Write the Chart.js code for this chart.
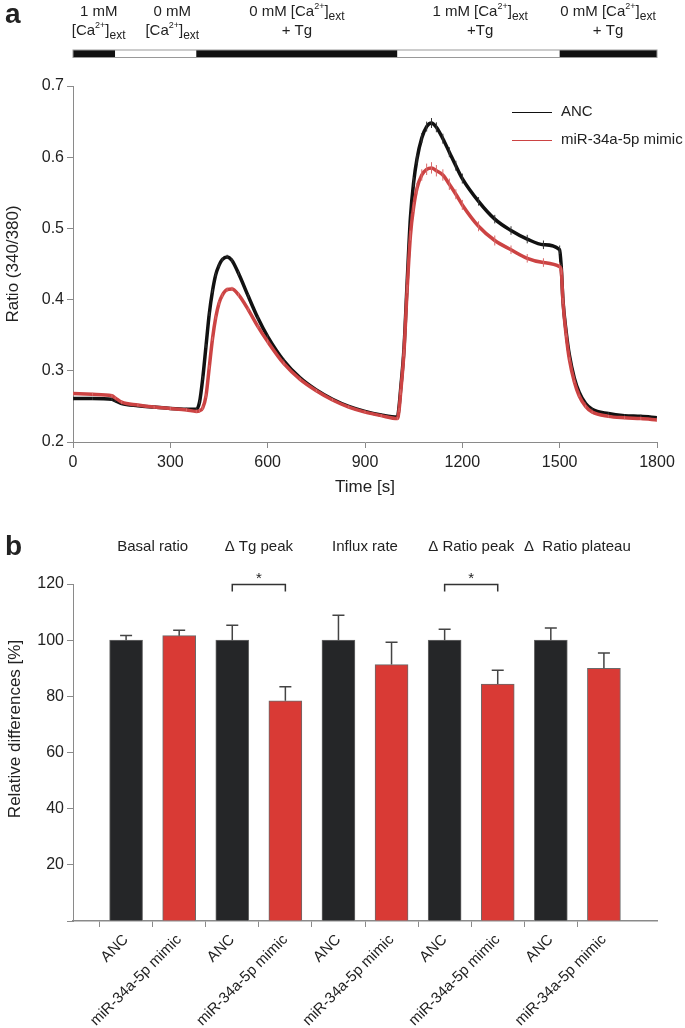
<!DOCTYPE html>
<html>
<head>
<meta charset="utf-8">
<script src="https://cdn.jsdelivr.net/npm/chart.js@4.4.1/dist/chart.umd.min.js"></script>
<style>
    html, body { margin: 0; padding: 0; background: #fff; }
    #wrap { position: relative; width: 685px; height: 1028px; }
    canvas { position: absolute; left: 0; }
    #ca { top: 0; }
    #cb { top: 500px; }
</style>
</head>
<body>
<div id="wrap">
    <canvas id="ca" width="685" height="500"></canvas>
    <canvas id="cb" width="685" height="528"></canvas>
</div>
<script>
// ---- panel a: Fura-2 ratio traces ----
const time = [0, 60, 120, 130, 150, 200, 250, 300, 350, 380, 390, 400, 410, 420, 430, 440, 450, 460, 475, 490,
    510, 540, 570, 600, 650, 700, 750, 800, 850, 900, 950, 1000, 1005, 1010, 1020, 1030, 1040, 1050, 1060, 1075,
    1090, 1105, 1120, 1140, 1160, 1180, 1200, 1250, 1300, 1350, 1400, 1450, 1500, 1505, 1510, 1520, 1530, 1545,
    1560, 1580, 1600, 1650, 1700, 1750, 1800]

const ancRatio = [0.261, 0.261, 0.260, 0.258, 0.254, 0.251, 0.249, 0.247, 0.246, 0.246,
    0.256, 0.290, 0.335, 0.380, 0.412, 0.435, 0.448, 0.456, 0.460, 0.455,
    0.437, 0.405, 0.374, 0.348, 0.314, 0.290, 0.273, 0.260, 0.250, 0.243,
    0.238, 0.235, 0.250, 0.275, 0.330, 0.425, 0.515, 0.565, 0.597, 0.627,
    0.643, 0.648, 0.642, 0.626, 0.607, 0.588, 0.570, 0.538, 0.513, 0.497,
    0.485, 0.477, 0.470, 0.445, 0.400, 0.355, 0.322, 0.290, 0.270, 0.254,
    0.246, 0.240, 0.237, 0.236, 0.234]

const mimicRatio = [0.268, 0.267, 0.265, 0.262, 0.256, 0.252, 0.249, 0.247, 0.245, 0.243,
    0.244, 0.248, 0.265, 0.305, 0.345, 0.375, 0.395, 0.406, 0.414, 0.415,
    0.407, 0.386, 0.362, 0.341, 0.310, 0.288, 0.272, 0.259, 0.249, 0.242,
    0.237, 0.233, 0.245, 0.270, 0.325, 0.415, 0.490, 0.530, 0.556, 0.575,
    0.583, 0.585, 0.581, 0.575, 0.562, 0.548, 0.533, 0.503, 0.483, 0.470,
    0.458, 0.452, 0.446, 0.440, 0.398, 0.350, 0.316, 0.285, 0.265, 0.250,
    0.242, 0.236, 0.234, 0.233, 0.231]

const ancSem = [0.002, 0.002, 0.002, 0.002, 0.002, 0.002, 0.002, 0.002, 0.002, 0.002,
    0.003, 0.003, 0.003, 0.003, 0.003, 0.003, 0.003, 0.003, 0.003, 0.003,
    0.003, 0.003, 0.003, 0.003, 0.003, 0.002, 0.002, 0.002, 0.002, 0.002,
    0.002, 0.002, 0.003, 0.004, 0.005, 0.006, 0.006, 0.007, 0.007, 0.007,
    0.007, 0.007, 0.007, 0.007, 0.007, 0.007, 0.007, 0.006, 0.006, 0.006,
    0.006, 0.006, 0.006, 0.005, 0.004, 0.003, 0.003, 0.002, 0.002, 0.002,
    0.002, 0.002, 0.002, 0.002, 0.002]

const mimicSem = [0.002, 0.002, 0.002, 0.002, 0.002, 0.002, 0.002, 0.002, 0.002, 0.002,
    0.003, 0.003, 0.003, 0.003, 0.003, 0.003, 0.003, 0.003, 0.003, 0.003,
    0.003, 0.003, 0.003, 0.003, 0.003, 0.002, 0.002, 0.002, 0.002, 0.002,
    0.002, 0.002, 0.003, 0.004, 0.005, 0.006, 0.007, 0.007, 0.008, 0.008,
    0.008, 0.008, 0.008, 0.008, 0.008, 0.007, 0.007, 0.007, 0.007, 0.006,
    0.006, 0.006, 0.006, 0.005, 0.004, 0.003, 0.003, 0.002, 0.002, 0.002,
    0.002, 0.002, 0.002, 0.002, 0.002]

// perfusion protocol bar
const phaseEdges = [0, 130, 380, 1000, 1500, 1800]
const phaseFilled = [true, false, true, false, true]
const phaseLabelAt = [79, 306, 690, 1255, 1649]
const phaseLine1 = ['1 mM', '0 mM', '0 mM [Ca^{2+}]_{ext}', '1 mM [Ca^{2+}]_{ext}', '0 mM [Ca^{2+}]_{ext}']
const phaseLine2 = ['[Ca^{2+}]_{ext}', '[Ca^{2+}]_{ext}', '+ Tg', '+Tg', '+ Tg']

// ---- panel b: relative differences ----
const groups = ['Basal ratio', '\u0394 Tg peak', 'Influx rate', '\u0394 Ratio peak', '\u0394  Ratio plateau']
const ancRel = [100, 100, 100, 100, 100]
const ancRelErr = [1.7, 5.3, 8.9, 3.9, 4.3]
const mimicRel = [101.6, 78.4, 91.3, 84.4, 90.0]
const mimicRelErr = [1.9, 5.0, 8.0, 4.9, 5.4]
const sigPairs = [[3, 4], [7, 8]]

const FONT = '"Liberation Sans", Arial, sans-serif'
const RED = '#cc4343'
const BAR_RED = '#d93a35'
const BAR_DARK = '#252628'
const AXIS = '#8a8a8a'

Chart.defaults.font.family = FONT
Chart.defaults.color = '#222'

function pts(xs, ys) {
    return xs.map((x, i) => ({ x: x, y: ys[i] }))
}

function errRadius(sem) {
    return function(ctx) {
        const y = ctx.chart.scales.y
        if (!y) return 0
        return Math.abs(y.getPixelForValue(0.3) - y.getPixelForValue(0.3 + sem[ctx.dataIndex]))
    }
}

// "[Ca^{2+}]_{ext}" -> pieces with super/subscript
function richParts(s) {
    const out = []
    const re = /\^\{([^}]*)\}|_\{([^}]*)\}|([^^_]+)/g
    let m
    while ((m = re.exec(s))) {
        if (m[1] != null) out.push([m[1], 'sup'])
        else if (m[2] != null) out.push([m[2], 'sub'])
        else out.push([m[3], ''])
    }
    return out
}

function richText(ctx, s, cx, cy, size) {
    const parts = richParts(s)
    const fontOf = k => (k === 'sup' ? Math.round(size * 0.6) : k === 'sub' ? Math.round(size * 0.8) : size) + 'px ' + FONT
    let w = 0
    for (const p of parts) {
        ctx.font = fontOf(p[1])
        w += ctx.measureText(p[0]).width
    }
    let x = cx - w / 2
    ctx.textBaseline = 'middle'
    ctx.textAlign = 'left'
    for (const p of parts) {
        ctx.font = fontOf(p[1])
        const dy = p[1] === 'sup' ? -size * 0.38 : p[1] === 'sub' ? size * 0.3 : 0
        ctx.fillText(p[0], x, cy + dy)
        x += ctx.measureText(p[0]).width
    }
}

const phaseBar = {
    id: 'phaseBar',
    afterDraw(chart) {
        const ctx = chart.ctx
        const x = chart.scales.x
        ctx.save()
        for (let i = 0; i < phaseFilled.length; i++) {
            const x0 = x.getPixelForValue(phaseEdges[i])
            const x1 = x.getPixelForValue(phaseEdges[i + 1])
            ctx.fillStyle = phaseFilled[i] ? '#111' : '#fff'
            ctx.fillRect(x0, 50, x1 - x0, 7.5)
        }
        ctx.strokeStyle = '#999'
        ctx.lineWidth = 1
        ctx.strokeRect(x.getPixelForValue(0), 50, x.getPixelForValue(1800) - x.getPixelForValue(0), 7.5)
        ctx.fillStyle = '#222'
        for (let i = 0; i < phaseLabelAt.length; i++) {
            const cx = x.getPixelForValue(phaseLabelAt[i])
            richText(ctx, phaseLine1[i], cx, 12, 15)
            richText(ctx, phaseLine2[i], cx, 31, 15)
        }
        ctx.font = 'bold 28px ' + FONT
        ctx.textAlign = 'left'
        ctx.textBaseline = 'alphabetic'
        ctx.fillText('a', 5, 23)
        ctx.restore()
    }
}

const legendA = {
    id: 'legendA',
    afterDraw(chart) {
        const ctx = chart.ctx
        const items = [['ANC', '#111', 112], ['miR-34a-5p mimic', RED, 140]]
        ctx.save()
        ctx.font = '15px ' + FONT
        ctx.textBaseline = 'middle'
        ctx.textAlign = 'left'
        for (const [txt, col, y] of items) {
            ctx.strokeStyle = col
            ctx.lineWidth = 1
            ctx.beginPath()
            ctx.moveTo(512, y + 0.5)
            ctx.lineTo(552, y + 0.5)
            ctx.stroke()
            ctx.fillStyle = '#222'
            ctx.fillText(txt, 561, y)
        }
        ctx.restore()
    }
}

function axisGrid() {
    return { display: true, drawOnChartArea: false, drawTicks: true, tickLength: 6, color: AXIS }
}

new Chart(document.getElementById('ca'), {
    type: 'line',
    data: {
        datasets: [{
            label: 'miR-34a-5p mimic',
            data: pts(time, mimicRatio),
            borderColor: RED,
            borderWidth: 3.5,
            cubicInterpolationMode: 'monotone',
            pointStyle: 'line',
            rotation: 90,
            pointRadius: errRadius(mimicSem),
            pointBorderColor: '#d96a6a',
            pointBorderWidth: 1,
            order: 0,
        }, {
            label: 'ANC',
            data: pts(time, ancRatio),
            borderColor: '#111',
            borderWidth: 3.5,
            cubicInterpolationMode: 'monotone',
            pointStyle: 'line',
            rotation: 90,
            pointRadius: errRadius(ancSem),
            pointBorderColor: '#333',
            pointBorderWidth: 1,
            order: 1,
        }]
    },
    options: {
        responsive: false,
        animation: false,
        devicePixelRatio: 1,
        layout: { padding: { top: 86, right: 28, left: 0, bottom: 0 } },
        plugins: { legend: { display: false }, tooltip: { enabled: false } },
        scales: {
            x: {
                type: 'linear', min: 0, max: 1800,
                ticks: { stepSize: 300, font: { size: 16 }, padding: 5, callback: v => String(v) },
                grid: axisGrid(),
                border: { color: AXIS, width: 1 },
                title: { display: true, text: 'Time [s]', font: { size: 17 }, padding: { top: 0, bottom: 2 } },
                afterFit(s) { s.height = 58 }
            },
            y: {
                type: 'linear', min: 0.2, max: 0.7,
                ticks: { stepSize: 0.1, font: { size: 16 }, padding: 3, callback: v => v.toFixed(1) },
                grid: axisGrid(),
                border: { color: AXIS, width: 1 },
                title: { display: true, text: 'Ratio (340/380)', font: { size: 17 }, padding: { top: 3, bottom: 0 } },
                afterFit(s) { s.width = 73 }
            }
        }
    },
    plugins: [phaseBar, legendA]
})

// ---- panel b chart ----
const barLabels = ['']
const barValues = [null]
const barErrors = [null]
const barColors = ['#fff']
for (let i = 0; i < groups.length; i++) {
    barLabels.push('ANC', 'miR-34a-5p mimic')
    barValues.push(ancRel[i], mimicRel[i])
    barErrors.push(ancRelErr[i], mimicRelErr[i])
    barColors.push(BAR_DARK, BAR_RED)
}
barLabels.push('')
barValues.push(null)
barErrors.push(null)
barColors.push('#fff')

const errorBars = {
    id: 'errorBars',
    afterDatasetsDraw(chart) {
        const ctx = chart.ctx
        const y = chart.scales.y
        const meta = chart.getDatasetMeta(0)
        ctx.save()
        ctx.strokeStyle = '#444'
        ctx.lineWidth = 1.5
        meta.data.forEach((bar, i) => {
            if (barErrors[i] == null) return
            const top = y.getPixelForValue(barValues[i] + barErrors[i])
            ctx.beginPath()
            ctx.moveTo(bar.x, bar.y)
            ctx.lineTo(bar.x, top)
            ctx.moveTo(bar.x - 6, top)
            ctx.lineTo(bar.x + 6, top)
            ctx.stroke()
        })
        ctx.restore()
    }
}

const decorB = {
    id: 'decorB',
    afterDraw(chart) {
        const ctx = chart.ctx
        const x = chart.scales.x
        const y = chart.scales.y
        ctx.save()
        ctx.fillStyle = '#222'
        ctx.font = '15px ' + FONT
        ctx.textAlign = 'center'
        ctx.textBaseline = 'middle'
        groups.forEach((g, i) => {
            const cx = (x.getPixelForTick(1 + 2 * i) + x.getPixelForTick(2 + 2 * i)) / 2
            ctx.fillText(g, cx, 47)
        })
        // significance brackets
        const by = Math.round(y.getPixelForValue(120)) + 0.5
        ctx.strokeStyle = '#333'
        ctx.lineWidth = 1.5
        for (const [a, b] of sigPairs) {
            const xa = x.getPixelForTick(a)
            const xb = x.getPixelForTick(b)
            ctx.beginPath()
            ctx.moveTo(xa, by + 7)
            ctx.lineTo(xa, by)
            ctx.lineTo(xb, by)
            ctx.lineTo(xb, by + 7)
            ctx.stroke()
            ctx.font = '15px ' + FONT
            ctx.fillText('*', (xa + xb) / 2, by - 6)
        }
        // y title
        ctx.save()
        ctx.translate(15, 229)
        ctx.rotate(-Math.PI / 2)
        ctx.font = '17px ' + FONT
        ctx.fillText('Relative differences [%]', 0, 0)
        ctx.restore()
        ctx.font = 'bold 28px ' + FONT
        ctx.textAlign = 'left'
        ctx.textBaseline = 'alphabetic'
        ctx.fillText('b', 5, 55)
        ctx.restore()
    }
}

new Chart(document.getElementById('cb'), {
    type: 'bar',
    data: {
        labels: barLabels,
        datasets: [{
            data: barValues,
            backgroundColor: barColors,
            borderColor: '#6a6a6a',
            borderWidth: 1,
            barThickness: 33,
        }]
    },
    options: {
        responsive: false,
        animation: false,
        devicePixelRatio: 1,
        layout: { padding: { top: 84, right: 28, left: 0, bottom: 0 } },
        plugins: { legend: { display: false }, tooltip: { enabled: false } },
        scales: {
            x: {
                type: 'category',
                offset: false,
                ticks: { minRotation: 45, maxRotation: 45, autoSkip: false, font: { size: 15 }, padding: 4 },
                grid: {
                    display: true, drawOnChartArea: false, drawTicks: true, tickLength: 6,
                    color: c => (c.index === barLabels.length - 1 ? 'rgba(0,0,0,0)' : AXIS)
                },
                border: { color: AXIS, width: 1.5 },
                afterFit(s) { s.height = 107 }
            },
            y: {
                min: 0, max: 120,
                ticks: { stepSize: 20, font: { size: 16 }, padding: 3, callback: v => (v === 0 ? '' : v) },
                grid: axisGrid(),
                border: { color: AXIS, width: 1 },
                afterFit(s) { s.width = 73 }
            }
        }
    },
    plugins: [errorBars, decorB]
})
</script>
</body>
</html>
